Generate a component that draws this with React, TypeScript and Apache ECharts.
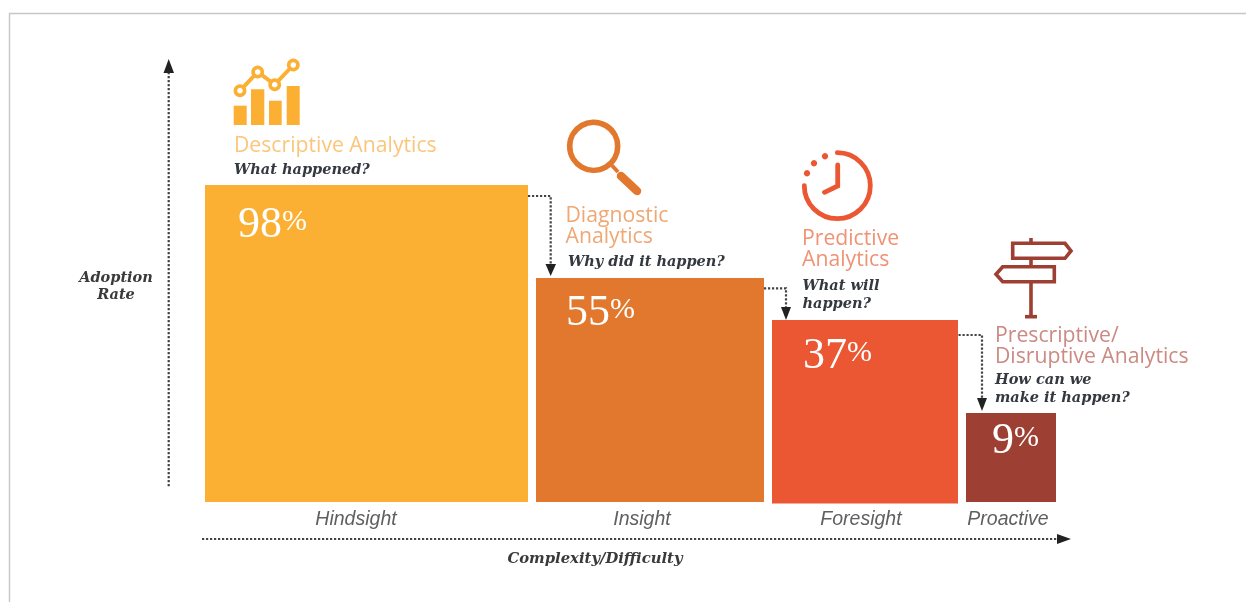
import React, { useEffect, useRef } from "react";
import * as echarts from "echarts";

// ---- data ----
const categories = ["Hindsight", "Insight", "Foresight", "Proactive"];
const adoption = [98, 55, 37, 9];
// the bars are not drawn to scale in the reference, so drawn extents are kept apart from the labels
const barStart = [0, 331, 567, 761];
const barEnd = [323, 559, 753, 851];
const barBase = [0, 0, -1.5, 0];
const barHeight = [317, 224, 182, 89];
const barColors = ["#FBB034", "#E1782D", "#EA5732", "#9E3F33"];

const yAxisTitle = ["Adoption", "Rate"];
const xAxisTitle = "Complexity/Difficulty";
const stageTitles = [
  "Descriptive Analytics",
  "Diagnostic\nAnalytics",
  "Predictive\nAnalytics",
  "Prescriptive/\nDisruptive Analytics",
];
const stageQuestions = [
  ["What happened?"],
  ["Why did it happen?"],
  ["What will", "happen?"],
  ["How can we", "make it happen?"],
];

// ---- layout and styles ----
const titleColors = ["#FBC67C", "#EFA873", "#F09274", "#CB8A83"];
const titleX = [234, 565.5, 802, 995];
const titleY = [143.5, 224, 246.5, 343.5];
const questionX = [234, 568, 802.5, 995];
const questionY = [[168.5], [260], [284, 302], [378.5, 396.5]];
const pctInset = [[33, 37], [30, 32], [31, 33], [26, 25]];
const catOffset = [-10.5, -8, -4, -3];
const ICON_LINE = "#444";
const SERIF = '"Liberation Serif"';
const SERIF_WIDE = '"DejaVu Serif"';
const SANS = '"Open Sans"';
const SANS_CAT = '"Liberation Sans"';

const text = (t: string, x: number, y: number, fill: string, font: string, align = "left") => ({
  type: "text",
  silent: true,
  style: { text: t, x, y, fill, font, textAlign: align, textVerticalAlign: "middle", lineHeight: 21 },
});
const dotted = (points: number[][]) => ({
  type: "polyline",
  silent: true,
  shape: { points },
  style: { stroke: ICON_LINE, lineWidth: 2.2, lineDash: [2.2, 1.8], fill: "none" },
});
const head = (points: number[][]) => ({
  type: "polygon",
  silent: true,
  shape: { points },
  style: { fill: "#222" },
});
const line = (x1: number, y1: number, x2: number, y2: number, stroke: string, lineWidth: number, lineCap = "round") => ({
  type: "line",
  silent: true,
  shape: { x1, y1, x2, y2 },
  style: { stroke, lineWidth, lineCap },
});
const box = (x: number, y: number, width: number, height: number, fill: string) => ({
  type: "rect",
  silent: true,
  shape: { x, y, width, height },
  style: { fill },
});
const ring = (cx: number, cy: number, r: number, stroke: string, lineWidth: number) => ({
  type: "circle",
  silent: true,
  shape: { cx, cy, r },
  style: { stroke, lineWidth, fill: "#fff" },
});
const dot = (cx: number, cy: number, r: number, fill: string) => ({
  type: "circle",
  silent: true,
  shape: { cx, cy, r },
  style: { fill },
});
const outline = (points: number[][], stroke: string) => ({
  type: "polygon",
  silent: true,
  shape: { points },
  style: { stroke, lineWidth: 3.6, fill: "none", lineJoin: "miter" },
});

const c1 = barColors[0];
const c2 = barColors[1];
const c3 = barColors[2];
const c4 = barColors[3];

const iconDescriptive = [
  box(233.7, 105.7, 13, 19.3, c1),
  box(251, 89.3, 13.3, 35.7, c1),
  box(269, 100.7, 12.7, 24.3, c1),
  box(286.7, 86, 13, 39, c1),
  {
    type: "polyline",
    silent: true,
    shape: { points: [[240, 90.7], [257.7, 72], [274.7, 84.7], [293.3, 65]] },
    style: { stroke: c1, lineWidth: 4, fill: "none" },
  },
  ring(240, 90.7, 4.6, c1, 3.6),
  ring(257.7, 72, 4.6, c1, 3.6),
  ring(274.7, 84.7, 4.6, c1, 3.6),
  ring(293.3, 65, 4.6, c1, 3.6),
];

const iconDiagnostic = [
  ring(593.7, 146.3, 24, c2, 5.6),
  line(612, 165.5, 618, 172, c2, 4, "butt"),
  line(621, 176, 637, 191, c2, 8.5),
];

const iconPredictive = [
  {
    type: "arc",
    silent: true,
    shape: { cx: 837.3, cy: 185.7, r: 33, startAngle: -Math.PI / 2, endAngle: Math.PI, clockwise: true },
    style: { stroke: c3, lineWidth: 4.8, fill: "none", lineCap: "round" },
  },
  dot(825, 156.3, 3.2, c3),
  dot(814, 163.3, 3.2, c3),
  dot(807, 173.3, 3.2, c3),
  {
    type: "polyline",
    silent: true,
    shape: { points: [[837.7, 165], [837.7, 186], [824.5, 192.3]] },
    style: { stroke: c3, lineWidth: 4.8, fill: "none", lineCap: "round" },
  },
];

const iconPrescriptive = [
  line(1031, 238, 1031, 243.5, c4, 3.6, "butt"),
  line(1031, 258.3, 1031, 266.7, c4, 3.6, "butt"),
  line(1031, 281.7, 1031, 316.7, c4, 3.6, "butt"),
  line(1025, 316.7, 1037, 316.7, c4, 3.6, "butt"),
  outline([[1012.7, 243.3], [1065, 243.3], [1071, 251], [1065, 258.3], [1012.7, 258.3]], c4),
  outline([[1054.3, 266.7], [1002.7, 266.7], [996, 274.3], [1002.7, 281.7], [1054.3, 281.7]], c4),
];

const frame = {
  type: "polyline",
  silent: true,
  shape: { points: [[9.5, 602], [9.5, 13.5], [1246, 13.5]] },
  style: { stroke: "#C6C6C6", lineWidth: 1.4, fill: "none" },
};

const annotations: any[] = [
  frame,
  dotted([[168.7, 72], [168.7, 487]]),
  head([[168.7, 59], [163.5, 73], [174, 73]]),
  dotted([[202, 539], [1060, 539]]),
  head([[1071, 539], [1057, 534], [1057, 544]]),
  dotted([[528, 196], [550.7, 196], [550.7, 264]]),
  head([[550.7, 276], [545.5, 264], [556, 264]]),
  dotted([[764, 288.3], [786, 288.3], [786, 307]]),
  head([[786, 320], [781, 307], [791, 307]]),
  dotted([[958.5, 335], [982, 335], [982, 398]]),
  head([[982, 411], [977, 398], [987, 398]]),
  ...iconDescriptive,
  ...iconDiagnostic,
  ...iconPredictive,
  ...iconPrescriptive,
  ...yAxisTitle.map((t, i) => text(t, 116, 276 + i * 17.5, "#3A3A3A", `italic bold 14.5px ${SERIF_WIDE}`, "center")),
  text(xAxisTitle, 595, 557.5, "#3A3A3A", `italic bold 14.8px ${SERIF_WIDE}`, "center"),
  ...stageTitles.map((t, s) => text(t, titleX[s], titleY[s], titleColors[s], `21.2px ${SANS}`)),
  ...stageQuestions.flatMap((lines, s) =>
    lines.map((t, i) => text(t, questionX[s], questionY[s][i], "#34383F", `italic bold 14.5px ${SERIF_WIDE}`))
  ),
];

export default function App() {
  const ref = useRef<HTMLDivElement>(null);

  useEffect(() => {
    const chart = echarts.init(ref.current!, undefined, { renderer: "svg" });
    chart.setOption({
      animation: false,
      backgroundColor: "#fff",
      grid: { left: 205, top: 185, width: 851, height: 319 },
      xAxis: { type: "value", min: 0, max: 851, show: false },
      yAxis: { type: "value", min: -2, max: 317, show: false },
      series: [
        {
          type: "custom",
          clip: false,
          silent: true,
          data: barStart.map((s, i) => [s, barEnd[i], barBase[i], barHeight[i]]),
          renderItem: (params: any, api: any) => {
            const i = params.dataIndex;
            const tl = api.coord([api.value(0), api.value(3)]);
            const br = api.coord([api.value(1), api.value(2)]);
            return {
              type: "group",
              children: [
                {
                  type: "rect",
                  shape: { x: tl[0], y: tl[1], width: br[0] - tl[0], height: br[1] - tl[1] },
                  style: { fill: barColors[i] },
                },
                {
                  type: "text",
                  style: {
                    text: `{n|${adoption[i]}}{p|%}`,
                    x: tl[0] + pctInset[i][0],
                    y: tl[1] + pctInset[i][1],
                    fill: "#fff",
                    textVerticalAlign: "middle",
                    rich: {
                      n: { fontFamily: SERIF, fontSize: 44, fill: "#fff" },
                      p: { fontFamily: SERIF, fontSize: 30, fill: "#fff", padding: [0, 0, 6, 0] },
                    },
                  },
                },
                {
                  type: "text",
                  style: {
                    text: categories[i],
                    x: (tl[0] + br[0]) / 2 + catOffset[i],
                    y: 518,
                    fill: "#5F5F5F",
                    font: `italic 19.5px ${SANS_CAT}`,
                    textAlign: "center",
                    textVerticalAlign: "middle",
                  },
                },
              ],
            };
          },
        },
      ],
      graphic: { elements: annotations },
    });
    return () => chart.dispose();
  }, []);

  return (
    <div
      ref={ref}
      style={{ position: "fixed", left: 0, top: 0, width: 1246, height: 602, filter: "blur(0.45px)" }}
    />
  );
}
